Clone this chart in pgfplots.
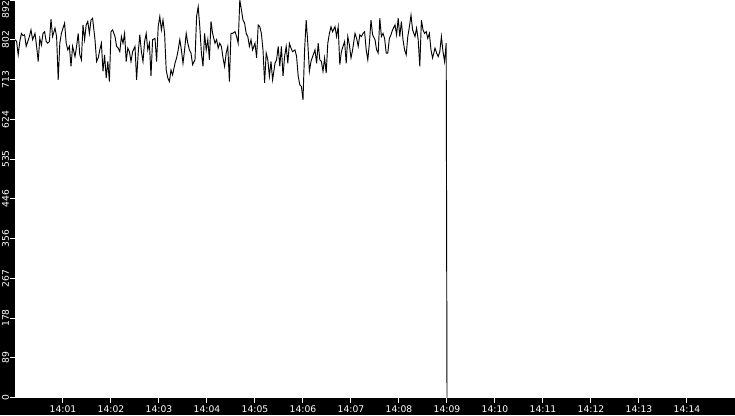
\documentclass[border=0pt]{standalone}
\usepackage{fontspec}
\setmainfont{DejaVu Sans}
\usepackage{pgfplots}
\pgfplotsset{compat=1.18}

\begin{document}
\begin{tikzpicture}
% whole picture: 735 x 415 px at 0.75pt per px; plot area is 720 x 397.5 px
\useasboundingbox (-11.25pt,-13.125pt) rectangle (540pt,298.125pt);
\fill[black] (-11.25pt,-13.125pt) rectangle (540pt,298.125pt);
\begin{axis}[
    at={(0pt,0pt)}, anchor=south west,
    scale only axis,
    width=540pt, height=298.125pt,
    xmin=0, xmax=900,
    ymin=0, ymax=892,
    axis lines*=left,
    axis line style={draw=none},
    axis background/.style={fill=white},
    tick align=outside,
    major tick length=3.75pt,
    tick style={white, line width=0.75pt},
    xtick={60,120,180,240,300,360,420,480,540,600,660,720,780,840},
    xticklabels={14:01,14:02,14:03,14:04,14:05,14:06,14:07,14:08,14:09,14:10,14:11,14:12,14:13,14:14},
    ytick={0,89.2,178.4,267.6,356.8,446,535.2,624.4,713.6,802.8},
    yticklabels={0,89,178,267,356,446,535,624,713,802},
    extra y ticks={892},
    extra y tick labels={892},
    extra y tick style={yticklabel style={anchor=south east}},
    ticklabel style={white, font=\fontsize{6.9}{8}\selectfont},
    xticklabel style={inner sep=2pt},
    yticklabel style={rotate=90, anchor=south, inner sep=0.6pt},
    /pgf/number format/assume math mode=true,
]
\addplot[black, line width=0.7pt, mark=none] coordinates {
(0,803) (2,799) (4,769) (6,799) (8,817) (10,812) (12,814) (14,788) (16,799) (18,810) (20,825) (22,803)
(25,817) (27,788) (29,754) (31,806) (33,791) (35,817) (37,821) (39,799) (41,795) (43,799) (45,849) (47,810)
(50,829) (52,810) (54,713) (56,795) (58,817) (60,829) (62,840) (64,795) (66,780) (68,788) (70,743) (72,788)
(75,765) (77,788) (79,817) (81,769) (83,758) (85,836) (87,803) (89,836) (91,844) (93,817) (95,847) (97,851)
(100,803) (102,754) (104,762) (106,780) (108,795) (110,732) (112,769) (114,717) (116,754) (118,709) (120,821) (122,825)
(125,810) (127,788) (129,784) (131,776) (133,810) (135,795) (137,817) (139,754) (141,784) (143,776) (145,754) (147,776)
(150,788) (152,713) (154,773) (156,814) (158,776) (160,754) (162,799) (164,817) (166,780) (168,795) (170,721) (172,803)
(175,806) (177,754) (179,832) (181,855) (183,825) (185,847) (187,817) (189,735) (191,717) (193,709) (195,735) (197,724)
(200,750) (202,762) (204,780) (206,803) (208,780) (210,750) (212,780) (214,817) (216,795) (218,780) (220,773) (222,747)
(225,758) (227,855) (229,877) (231,832) (233,773) (235,743) (237,817) (239,780) (241,803) (243,758) (245,844) (247,817)
(250,795) (252,803) (254,784) (256,795) (258,788) (260,762) (262,743) (264,773) (266,788) (268,709) (270,817) (272,817)
(275,821) (277,810) (279,795) (281,892) (283,870) (285,847) (287,840) (289,817) (291,810) (293,788) (295,803) (297,780)
(300,795) (302,762) (304,836) (306,832) (308,817) (310,780) (312,706) (314,773) (316,758) (318,721) (320,754) (322,713)
(325,750) (327,758) (329,788) (331,743) (333,788) (335,721) (337,765) (339,788) (341,750) (343,795) (345,784) (347,776)
(350,780) (352,765) (354,721) (356,702) (358,698) (360,668) (362,780) (364,847) (366,795) (368,732) (370,754) (372,765)
(375,780) (377,750) (379,795) (381,758) (383,754) (385,732) (387,762) (389,728) (391,795) (393,817) (395,832) (397,821)
(400,832) (402,810) (404,832) (406,747) (408,776) (410,788) (412,799) (414,750) (416,810) (418,791) (420,762) (422,780)
(425,817) (427,806) (429,788) (431,814) (433,810) (435,817) (437,821) (439,780) (441,758) (443,795) (445,847) (447,814)
(450,803) (452,780) (454,773) (456,851) (458,810) (460,817) (462,806) (464,773) (466,773) (468,806) (470,814) (472,825)
(475,836) (477,814) (479,851) (481,810) (483,844) (485,803) (487,780) (489,769) (491,810) (493,832) (495,858) (497,825)
(500,810) (502,829) (504,803) (506,743) (508,847) (510,825) (512,817) (514,821) (516,806) (518,817) (520,780) (522,762)
(525,784) (527,773) (529,765) (531,776) (533,810) (535,776) (537,754) (539,795)
(539.5,400) (540,0)
};
\end{axis}
\end{tikzpicture}
\end{document}
